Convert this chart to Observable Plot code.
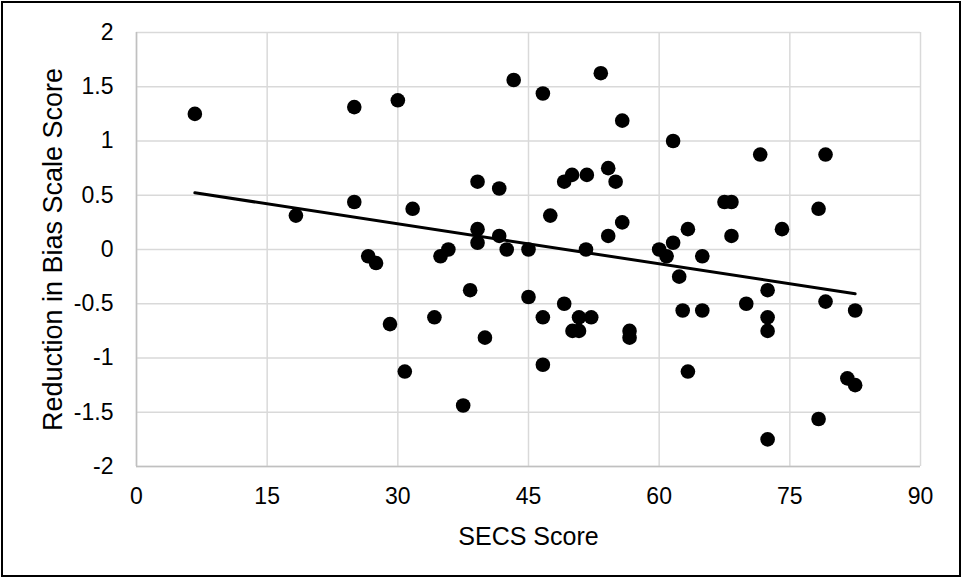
<!DOCTYPE html>
<html>
<head>
<meta charset="utf-8">
<script src="https://cdn.jsdelivr.net/npm/d3@7"></script>
<script src="https://cdn.jsdelivr.net/npm/@observablehq/plot@0.6"></script>
<style>
  html, body { margin: 0; padding: 0; background: #fff; }
  #chart svg { display: block; outline: 2px solid #000; outline-offset: -3px; }
</style>
</head>
<body>
<div id="chart"></div>
<script>
const secsScore = [
  6.7, 18.3, 25.0, 25.0, 26.6, 27.5, 29.1, 30.0, 30.8, 31.7,
  34.2, 34.9, 35.8, 37.5, 38.3, 39.15, 39.15, 39.15, 40.0, 41.64,
  41.64, 42.5, 43.3, 45.0, 45.0, 46.65, 46.65, 46.65, 47.5, 49.1,
  49.1, 50.0, 50.05, 50.8, 50.8, 51.7, 51.6, 52.2, 53.3, 54.15,
  54.15, 55.0, 55.76, 55.76, 56.6, 56.6, 60.0, 60.85, 61.6, 61.6,
  62.3, 62.7, 63.3, 63.3, 64.95, 64.95, 67.5, 68.3, 68.3, 70.0,
  71.6, 72.45, 72.45, 72.45, 72.45, 74.1, 78.3, 78.3, 79.1, 79.1,
  81.6, 82.5, 82.5
];
const biasReduction = [
  1.25, 0.3125, 1.3125, 0.4375, -0.0625, -0.125, -0.6875, 1.375, -1.125, 0.375,
  -0.625, -0.0625, 0, -1.4375, -0.375, 0.625, 0.1875, 0.0625, -0.8125, 0.5625,
  0.125, 0, 1.5625, 0, -0.4375, 1.4375, -0.625, -1.0625, 0.3125, 0.625,
  -0.5, 0.6875, -0.75, -0.625, -0.75, 0.6875, 0, -0.625, 1.625, 0.75,
  0.125, 0.625, 1.1875, 0.25, -0.75, -0.8125, 0, -0.0625, 1.0, 0.0625,
  -0.25, -0.5625, 0.1875, -1.125, -0.0625, -0.5625, 0.4375, 0.4375, 0.125, -0.5,
  0.875, -0.375, -0.625, -0.75, -1.75, 0.1875, 0.375, -1.5625, 0.875, -0.48,
  -1.1875, -0.5625, -1.25
];
const xTicks = [0, 15, 30, 45, 60, 75, 90];
const yTicks = [-2, -1.5, -1, -0.5, 0, 0.5, 1, 1.5, 2];
const xTitle = "SECS Score";
const yTitle = "Reduction in Bias Scale Score";

const data = secsScore.map((x, i) => ({x, y: biasReduction[i]}));

const chart = Plot.plot({
  width: 962,
  height: 578,
  marginLeft: 136,
  marginRight: 42,
  marginTop: 32,
  marginBottom: 112,
  style: {fontFamily: "'Liberation Sans', Arial, sans-serif", fontSize: "23px", color: "#000", background: "#fff"},
  x: {domain: [0, 90]},
  y: {domain: [-2, 2]},
  marks: [
    Plot.gridX(xTicks, {stroke: "#d9d9d9", strokeOpacity: 1, strokeWidth: 1.5}),
    Plot.gridY(yTicks, {stroke: "#d9d9d9", strokeOpacity: 1, strokeWidth: 1.5}),
    Plot.ruleX([0], {stroke: "#c0c0c0", strokeWidth: 1.5}),
    Plot.ruleY([-2], {stroke: "#c0c0c0", strokeWidth: 1.5}),
    Plot.axisX({ticks: xTicks, tickSize: 0, tickPadding: 21, tickFormat: d => String(d), fontSize: 23, label: null}),
    Plot.axisX({ticks: [], tickSize: 0, label: xTitle, labelAnchor: "center", labelArrow: "none", labelOffset: 78, fontSize: 25}),
    Plot.axisY({ticks: yTicks, tickSize: 0, tickPadding: 23, tickFormat: d => String(d), fontSize: 23, label: null}),
    Plot.axisY({ticks: [], tickSize: 0, label: yTitle, labelAnchor: "center", labelArrow: "none", labelOffset: 94, fontSize: 27}),
    Plot.linearRegressionY(data, {x: "x", y: "y", ci: 0, stroke: "#000", strokeWidth: 3}),
    Plot.dot(data, {x: "x", y: "y", r: 7.3, fill: "#000", stroke: "none"})
  ]
});
document.getElementById("chart").appendChild(chart);
</script>
</body>
</html>
